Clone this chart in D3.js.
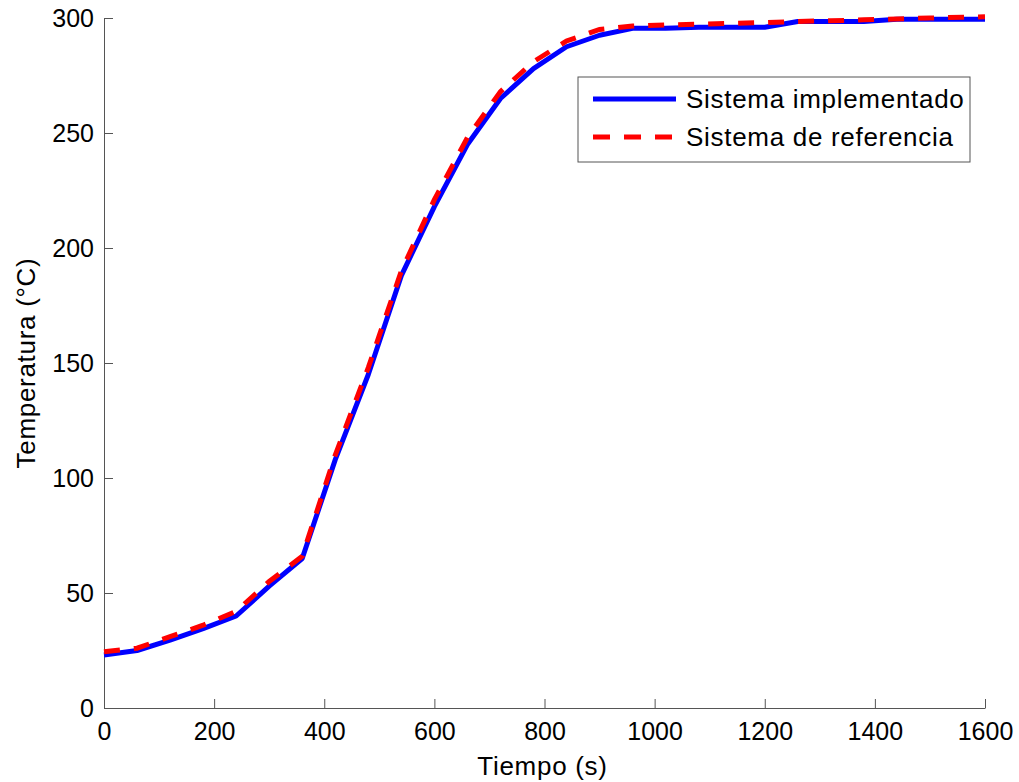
<!DOCTYPE html>
<html>
<head>
    <meta charset="utf-8">
    <title>Temperatura</title>
    <script src="https://d3js.org/d3.v7.min.js"></script>
    <style>
        body { margin: 0; background: #fff; }
        svg { display: block; }
        text { font-family: "Liberation Sans", Arial, sans-serif; fill: #000; }
        .axis path, .axis line { stroke: #555; stroke-width: 1; }
        .axis text { font-size: 25px; }
        .label { font-size: 26px; letter-spacing: 0.7px; }
    </style>
</head>
<body>
    <svg></svg>
    <script>
        // Datos
        const tiempo = [0, 60, 120, 180, 240, 300, 360, 420, 480, 540, 600, 660, 720, 780,
            840, 900, 960, 1020, 1080, 1140, 1200, 1260, 1320, 1380, 1440, 1500, 1560, 1600];
        const implementado = [23, 25, 29.5, 34.5, 40, 53, 65, 108, 145, 188, 218, 245, 265, 278,
            287.5, 292.5, 295.5, 295.5, 296, 296, 296, 298.5, 298.5, 298.5, 299.5, 299.5, 299.5, 299.5];
        const referencia = [24.5, 26, 31, 36, 42, 55, 66, 110, 148, 190, 221, 248, 268, 281,
            290, 295, 296.5, 297, 297.3, 297.7, 298, 298.5, 298.8, 299.2, 299.6, 300, 300.3, 300.5];
        const xTicks = [0, 200, 400, 600, 800, 1000, 1200, 1400, 1600];
        const yTicks = [0, 50, 100, 150, 200, 250, 300];
        const leyenda = ["Sistema implementado", "Sistema de referencia"];

        const width = 1019, height = 782;
        const margin = { left: 104, top: 18, right: 34, bottom: 74 };

        const svg = d3.select("svg")
            .attr("width", width)
            .attr("height", height);

        const x = d3.scaleLinear().domain([0, 1600]).range([margin.left, width - margin.right]);
        const y = d3.scaleLinear().domain([0, 300]).range([height - margin.bottom, margin.top]);

        // Ejes (ticks hacia dentro, sin caja)
        svg.append("g")
            .attr("class", "axis")
            .attr("transform", `translate(0,${y(0)})`)
            .call(d3.axisBottom(x).tickValues(xTicks).tickFormat(d3.format("d"))
                .tickSizeInner(-9).tickSizeOuter(0).tickPadding(14));

        svg.append("g")
            .attr("class", "axis")
            .attr("transform", `translate(${x(0)},0)`)
            .call(d3.axisLeft(y).tickValues(yTicks).tickFormat(d3.format("d"))
                .tickSizeInner(-9).tickSizeOuter(0).tickPadding(10));

        // Curvas
        const datos = tiempo.map((t, i) => ({ t, a: implementado[i], b: referencia[i] }));

        svg.append("path")
            .datum(datos)
            .attr("fill", "none")
            .attr("stroke", "#0000ff")
            .attr("stroke-width", 5)
            .attr("stroke-linejoin", "round")
            .attr("d", d3.line().x(d => x(d.t)).y(d => y(d.a)));

        svg.append("path")
            .datum(datos)
            .attr("fill", "none")
            .attr("stroke", "#ff0000")
            .attr("stroke-width", 5)
            .attr("stroke-dasharray", "16,14")
            .attr("d", d3.line().x(d => x(d.t)).y(d => y(d.b)));

        // Títulos de ejes
        svg.append("text")
            .attr("class", "label")
            .attr("x", x(800) - 2)
            .attr("y", 775)
            .attr("text-anchor", "middle")
            .text("Tiempo (s)");

        svg.append("text")
            .attr("class", "label")
            .attr("transform", "translate(35,363) rotate(-90)")
            .attr("text-anchor", "middle")
            .text("Temperatura (°C)");

        // Leyenda
        const leg = svg.append("g").attr("transform", "translate(578,77)");
        leg.append("rect")
            .attr("width", 392)
            .attr("height", 85)
            .attr("fill", "#fff")
            .attr("stroke", "#555")
            .attr("stroke-width", 1);

        leyenda.forEach((nombre, i) => {
            const yy = 22 + i * 38;
            leg.append("line")
                .attr("x1", 15).attr("x2", 98)
                .attr("y1", yy).attr("y2", yy)
                .attr("stroke", i === 0 ? "#0000ff" : "#ff0000")
                .attr("stroke-width", 5)
                .attr("stroke-dasharray", i === 0 ? null : "17,14");
            leg.append("text")
                .attr("class", "label")
                .attr("x", 108)
                .attr("y", yy + 9)
                .text(nombre);
        });
    </script>
</body>
</html>
